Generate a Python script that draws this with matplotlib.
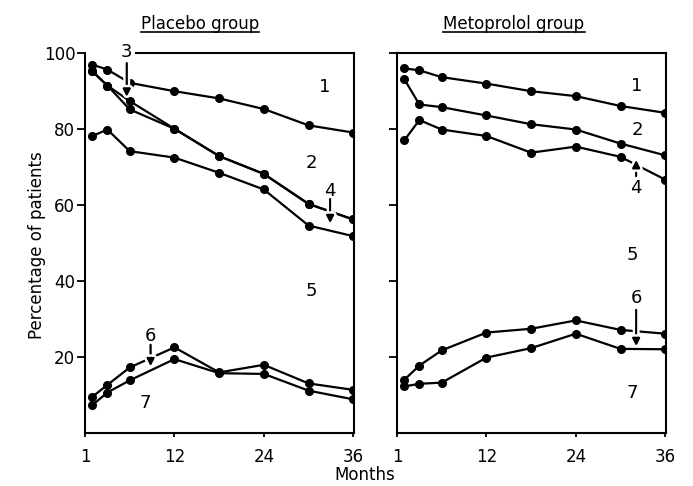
import matplotlib
matplotlib.use("Agg")
import matplotlib.pyplot as plt
from matplotlib.lines import Line2D
import matplotlib.patheffects as pe

plt.rcParams['font.family'] = ['DejaVu Sans']

# ---------------- data ----------------
months = [1, 3, 6, 12, 18, 24, 30, 36]
tick_pos = [0, 12, 24, 36]
tick_labels = ["1", "12", "24", "36"]
y_ticks = [20, 40, 60, 80, 100]

placebo_c1 = [97.0, 95.7, 92.2, 90.0, 88.1, 85.3, 81.0, 79.1]
placebo_c2 = [95.2, 91.5, 87.4, 80.1, 72.9, 68.2, 60.3, 56.2]
placebo_c3 = [95.2, 91.5, 85.2, 80.1, 72.9, 68.2, 60.3, 56.2]
placebo_c4 = [78.2, 79.9, 74.2, 72.5, 68.5, 64.1, 54.6, 51.8]
placebo_c5 = [9.5, 12.6, 17.2, 22.5, 15.9, 17.9, 13.0, 11.3]
placebo_c6 = [7.3, 10.6, 13.8, 19.4, 15.7, 15.5, 11.1, 8.8]

metop_c1 = [96.0, 95.5, 93.7, 92.0, 90.0, 88.7, 86.1, 84.3]
metop_c2 = [93.1, 86.5, 85.8, 83.6, 81.3, 79.9, 76.2, 73.1]
metop_c4 = [77.1, 82.4, 79.9, 78.2, 73.8, 75.4, 72.7, 66.7]
metop_c5 = [14.0, 17.7, 21.7, 26.4, 27.4, 29.6, 27.1, 26.1]
metop_c6 = [12.2, 12.9, 13.2, 19.8, 22.3, 26.1, 22.1, 22.0]

placebo_series = [placebo_c1, placebo_c2, placebo_c3, placebo_c4, placebo_c5, placebo_c6]
metop_series = [metop_c1, metop_c2, metop_c4, metop_c5, metop_c6]

# region labels: (text, x, y)
placebo_labels = [("1", 32.2, 91.0), ("2", 30.4, 71.1), ("5", 30.4, 37.3), ("7", 8.1, 7.8)]
placebo_arrows = [("3", 5.6, 100.2, 97.4, 88.6), ("4", 32.9, 63.6, 61.6, 55.3),
                  ("6", 8.8, 25.5, 23.2, 17.6)]
metop_labels = [("1", 32.1, 91.3), ("2", 32.3, 79.9), ("5", 31.6, 46.9), ("7", 31.6, 10.4)]
metop_arrows = [("4", 32.1, 64.6, 67.6, 71.8), ("6", 32.1, 35.5, 32.4, 22.9)]

# ---------------- figure ----------------
W, H = 693, 486
fig = plt.figure(figsize=(W / 100, H / 100), dpi=100)
ax1 = fig.add_axes([85 / W, 53.25 / H, 269 / W, 379.5 / H])
ax2 = fig.add_axes([397 / W, 53.25 / H, 269 / W, 379.5 / H])

lab_fs = 13
for ax, series in ((ax1, placebo_series), (ax2, metop_series)):
    for s in series:
        ax.plot(months, s, color='black', lw=1.6, marker='o', ms=5.5,
                solid_joinstyle='round', zorder=3)
    ax.set_xlim(0, 36.1)
    ax.set_ylim(0, 100)
    ax.set_xticks(tick_pos)
    ax.set_xticklabels(tick_labels)
    ax.set_yticks(y_ticks)
    for sp in ax.spines.values():
        sp.set_linewidth(1.5)
    ax.tick_params(axis='x', direction='out', length=3, width=1.3, pad=8, labelsize=12)
    ax.tick_params(axis='y', direction='out', length=6, width=1.3, pad=1, labelsize=12)

ax2.set_yticklabels([])
ax1.spines['top'].set_bounds(6.9, 36.1)

def add_arrow(ax, x, y_tail, y_head):
    ann = ax.annotate('', xy=(x, y_head), xytext=(x, y_tail),
                      arrowprops=dict(arrowstyle='-|>', color='black', lw=1.3,
                                      mutation_scale=11, shrinkA=0, shrinkB=0),
                      zorder=5)
    ann.arrow_patch.set_path_effects([pe.withStroke(linewidth=5, foreground='white'), pe.Normal()])

for ax, labels, arrows in ((ax1, placebo_labels, placebo_arrows), (ax2, metop_labels, metop_arrows)):
    for t, x, y in labels:
        ax.text(x, y, t, fontsize=lab_fs, ha='center', va='center', zorder=6)
    for t, x, y, yt, yh in arrows:
        ax.text(x, y, t, fontsize=lab_fs, ha='center', va='center', zorder=6, clip_on=False)
        add_arrow(ax, x, yt, yh)

fig.text(37 / W, 1 - 245 / H, "Percentage of patients", rotation=90,
         ha='center', va='center', fontsize=12)
fig.text(365 / W, 1 - 475 / H, "Months", ha='center', va='center', fontsize=12)

t1 = fig.text(200 / W, 1 - 29 / H, "Placebo group", ha='center', va='baseline', fontsize=12)
t2 = fig.text(514 / W, 1 - 29 / H, "Metoprolol group", ha='center', va='baseline', fontsize=12)

fig.canvas.draw()
r = fig.canvas.get_renderer()
for t in (t1, t2):
    bb = t.get_window_extent(r)
    yb = (H - 32) / H
    fig.add_artist(Line2D([bb.x0 / W, bb.x1 / W], [yb, yb], color='black', lw=1.2))

fig.savefig("out.png", dpi=100)
